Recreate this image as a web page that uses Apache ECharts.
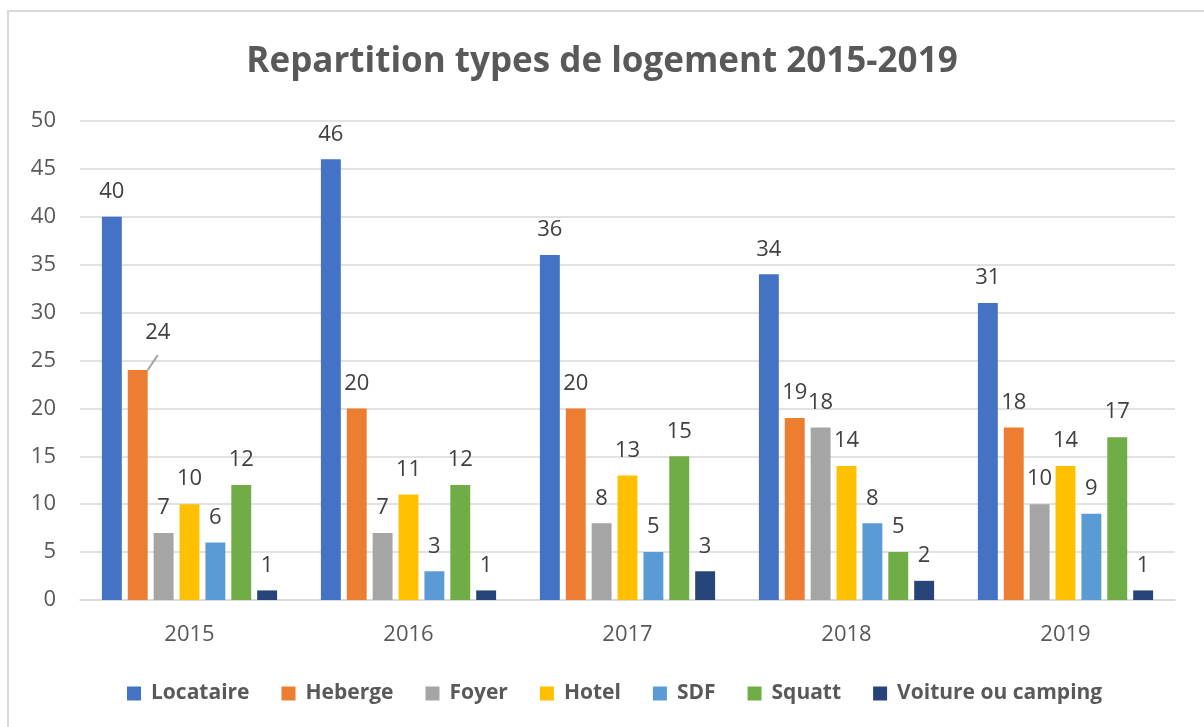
<!DOCTYPE html>
<html><head><meta charset="utf-8">
<script src="https://cdn.jsdelivr.net/npm/echarts@6/dist/echarts.min.js"></script>
<style>html,body{margin:0;padding:0;background:#fff;}#c{width:1204px;height:727px;}</style>
</head><body><div id="c"></div>
<script>
const categories = ['2015','2016','2017','2018','2019'];
const seriesNames = ['Locataire','Heberge','Foyer','Hotel','SDF','Squatt','Voiture ou camping'];
const colors = ['#4472C4','#ED7D31','#A5A5A5','#FFC000','#5B9BD5','#70AD47','#264478'];
const locataire = [40,46,36,34,31];
const heberge = [24,20,20,19,18];
const foyer = [7,7,8,18,10];
const hotel = [10,11,13,14,14];
const sdf = [6,3,5,8,9];
const squatt = [12,12,15,5,17];
const voiture = [1,1,3,2,1];
const yTicks = [0,5,10,15,20,25,30,35,40,45,50];
const values = [locataire, heberge, foyer, hotel, sdf, squatt, voiture];

const chart = echarts.init(document.getElementById('c'));
const series = seriesNames.map((n,i)=>({
  name:n, type:'bar', barGap:'30%', barCategoryGap:'20%',
  itemStyle:{color:colors[i]},
  label:{show:true, position:'top', distance:14, color:'#404040', fontSize:22, fontFamily:'Open Sans'},
  data: values[i].map((v,j)=> (i===1 && j===0)
    ? {value:v, label:{offset:[20,-12]}, labelLine:{show:true, lineStyle:{color:'#A6A6A6', width:2}}}
    : v)
}));
chart.setOption({
  animation:false,
  title:{text:'Repartition types de logement 2015-2019', left:'center', top:40,
    textStyle:{color:'#595959', fontSize:35, fontWeight:'bold', fontFamily:'Open Sans'}},
  graphic:[{type:'rect', shape:{x:8,y:11,width:1220,height:740}, style:{fill:'none', stroke:'#D9D9D9', lineWidth:2}, silent:true}],
  grid:{left:80, right:29, top:121, bottom:127},
  legend:{bottom:18, left:122, itemWidth:14, itemHeight:14, itemGap:32, icon:'rect',
    textStyle:{color:'#595959', fontSize:21, fontWeight:'bold', fontFamily:'Open Sans', padding:[0,0,0,5]}},
  xAxis:{type:'category', data:categories, axisTick:{show:false},
    axisLine:{lineStyle:{color:'#D9D9D9', width:1.5}},
    axisLabel:{color:'#595959', fontSize:22, margin:24, fontFamily:'Open Sans'}},
  yAxis:{type:'value', min:0, max:50, interval:5, splitLine:{lineStyle:{color:'#D9D9D9', width:1.5}},
    axisLine:{show:false}, axisTick:{show:false},
    axisLabel:{color:'#595959', fontSize:22, margin:24, fontFamily:'Open Sans'}},
  series
});
</script></body></html>
